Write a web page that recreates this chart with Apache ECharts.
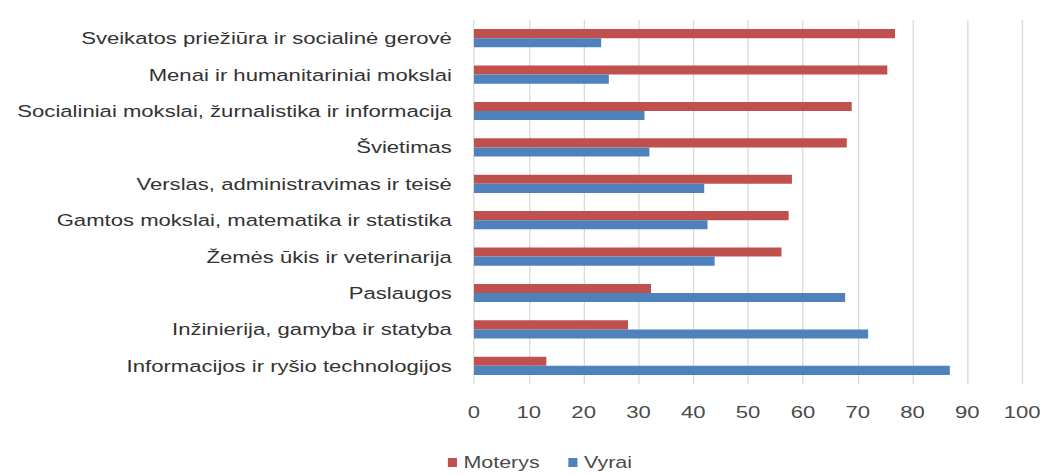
<!DOCTYPE html>
<html><head><meta charset="utf-8">
<script src="https://cdn.jsdelivr.net/npm/echarts@6/dist/echarts.min.js"></script>
<style>
html,body{margin:0;padding:0;background:#fff;overflow:hidden}
#wrap{width:1045px;height:475px;overflow:hidden}
#c{width:804px;height:475px;transform:scaleX(1.3);transform-origin:0 0}
</style>
</head><body><div id="wrap"><div id="c"></div></div>
<script>
const categories = [
  "Sveikatos priežiūra ir socialinė gerovė",
  "Menai ir humanitariniai mokslai",
  "Socialiniai mokslai, žurnalistika ir informacija",
  "Švietimas",
  "Verslas, administravimas ir teisė",
  "Gamtos mokslai, matematika ir statistika",
  "Žemės ūkis ir veterinarija",
  "Paslaugos",
  "Inžinierija, gamyba ir statyba",
  "Informacijos ir ryšio technologijos"
];
const seriesNames = ['Moterys', 'Vyrai'];
const moterys = [76.8, 75.4, 68.9, 68.0, 58.0, 57.4, 56.1, 32.3, 28.1, 13.2];
const vyrai   = [23.2, 24.6, 31.1, 32.0, 42.0, 42.6, 43.9, 67.7, 71.9, 86.8];

const chart = echarts.init(document.getElementById('c'), null, {renderer: 'svg'});
chart.setOption({
  animation: false,
  textStyle: {fontFamily: 'Liberation Sans, Arial, sans-serif'},
  grid: {left: 364.6, right: 17.7, top: 20, bottom: 91, containLabel: false},
  legend: {
    bottom: 4, left: 344.5, padding: 0,
    itemWidth: 7, itemHeight: 9, itemGap: 22, icon: 'rect',
    textStyle: {fontSize: 16.5, color: '#4a4a4a', padding: [0,0,0,0]},
    data: seriesNames
  },
  xAxis: {
    type: 'value', min: 0, max: 100, interval: 10,
    axisLine: {show: false}, axisTick: {show: false},
    axisLabel: {fontSize: 17, color: '#4a4a4a', margin: 19},
    splitLine: {show: true, lineStyle: {color: '#d9d9d9', width: 1}}
  },
  yAxis: {
    type: 'category', inverse: true, data: categories,
    axisLine: {show: false}, axisTick: {show: false},
    axisLabel: {fontSize: 17, color: '#333333', margin: 17}
  },
  series: [
    {name: seriesNames[0], type: 'bar', data: moterys, barGap: '0%', barCategoryGap: '50%', itemStyle: {color: '#c0504d'}},
    {name: seriesNames[1], type: 'bar', data: vyrai, barGap: '0%', barCategoryGap: '50%', itemStyle: {color: '#4f81bd'}}
  ]
});
</script></body></html>
